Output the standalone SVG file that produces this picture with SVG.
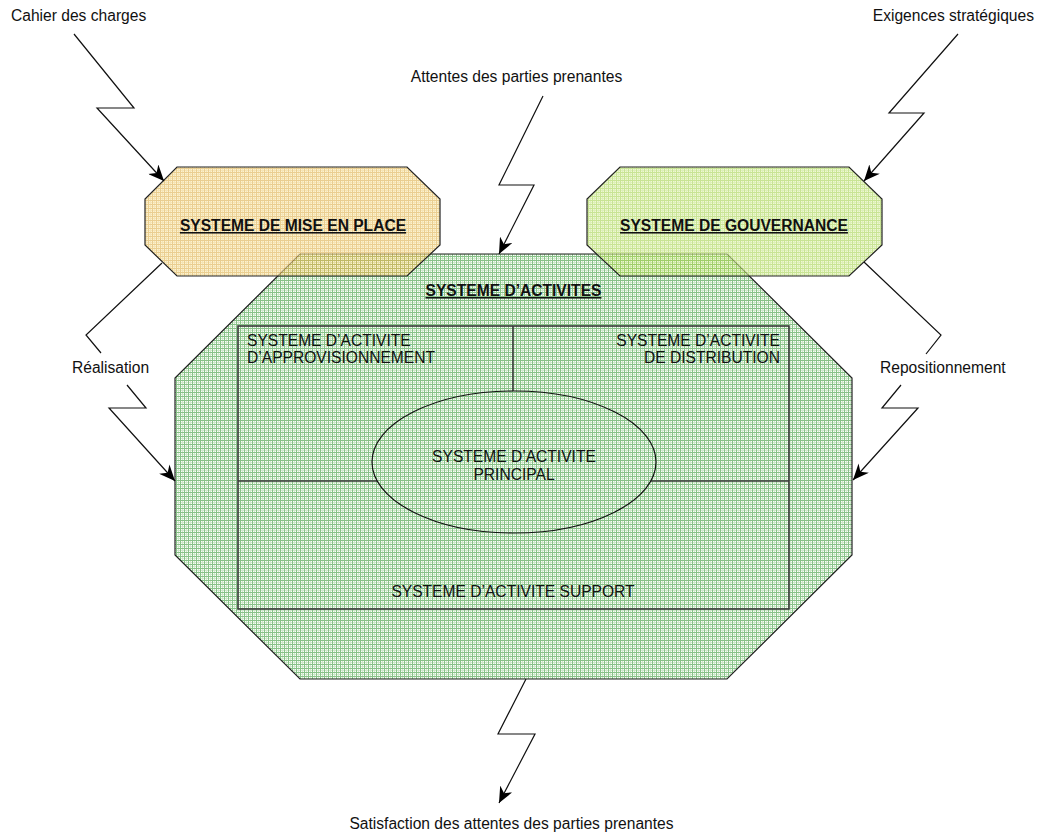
<svg xmlns="http://www.w3.org/2000/svg" width="1037" height="834" viewBox="0 0 1037 834">
<style>
.t{font-family:"Liberation Sans",Arial,sans-serif;font-size:15.6px;fill:#111}
.b{font-weight:bold;text-decoration:underline}
.edge{fill:none;stroke:#111;stroke-width:1.2}
.oct{fill:none;stroke:#222;stroke-width:1.2}
.inner{fill:none;stroke:#3a3a3a;stroke-width:1.6}
</style>
<defs>
<pattern id="pg" width="4" height="4" patternUnits="userSpaceOnUse">
<rect width="4" height="4" fill="#fafdf9"/>
<rect x="2" width="1" height="4" fill="#cfe8cb"/>
<rect y="2" width="4" height="1" fill="#cfe8cb"/>
<rect width="1" height="4" fill="#88c288"/>
<rect width="4" height="1" fill="#88c288"/>
</pattern>
<pattern id="po" width="4" height="4" patternUnits="userSpaceOnUse">
<rect width="4" height="4" fill="#faebb8"/>
<rect x="2" width="1" height="4" fill="#efd68c"/>
<rect y="2" width="4" height="1" fill="#efd68c"/>
<rect width="1" height="4" fill="#deb454"/>
<rect width="4" height="1" fill="#deb454"/>
</pattern>
<pattern id="pl" width="4" height="4" patternUnits="userSpaceOnUse">
<rect width="4" height="4" fill="#e6f5bc"/>
<rect x="2" width="1" height="4" fill="#cbe794"/>
<rect y="2" width="4" height="1" fill="#cbe794"/>
<rect width="1" height="4" fill="#abd65a"/>
<rect width="4" height="1" fill="#abd65a"/>
</pattern>
<marker id="ah" viewBox="0 0 16 14" refX="16" refY="7" markerWidth="16" markerHeight="14" markerUnits="userSpaceOnUse" orient="auto">
<path d="M0,0 L16,7 L0,14 L5,7 z" fill="#000"/>
</marker>
</defs>

<g id="activites">
<polygon points="300,254 727,254 852,378 852,555 727,679 300,679 175,555 175,378" fill="url(#pg)"/>
<polygon class="oct" points="300,254 727,254 852,378 852,555 727,679 300,679 175,555 175,378"/>
<text class="t b" x="513.5" y="296" text-anchor="middle">SYSTEME D’ACTIVITES</text>
</g>

<g id="activite-cadre">
<rect class="inner" x="238" y="326" width="551" height="283"/>
<line class="inner" x1="513" y1="326" x2="513" y2="391"/>
<line class="inner" x1="238" y1="481" x2="377" y2="481"/>
<line class="inner" x1="651" y1="481" x2="789" y2="481"/>
</g>

<g id="approvisionnement">
<text class="t" x="247" y="346">SYSTEME D’ACTIVITE</text>
<text class="t" x="247" y="363">D’APPROVISIONNEMENT</text>
</g>

<g id="distribution">
<text class="t" x="780" y="346" text-anchor="end">SYSTEME D’ACTIVITE</text>
<text class="t" x="780" y="363" text-anchor="end">DE DISTRIBUTION</text>
</g>

<g id="principal">
<ellipse cx="514" cy="462" rx="142" ry="71" fill="none" stroke="#111" stroke-width="1.2"/>
<text class="t" x="514" y="462" text-anchor="middle">SYSTEME D’ACTIVITE</text>
<text class="t" x="514" y="480" text-anchor="middle">PRINCIPAL</text>
</g>

<g id="support">
<text class="t" x="513" y="597" text-anchor="middle">SYSTEME D’ACTIVITE SUPPORT</text>
</g>

<g id="mise-en-place">
<polygon points="177,167 407,167 440,199 440,245 407,276 177,276 145,245 145,199" fill="url(#po)" fill-opacity="0.65"/>
<polygon class="oct" points="177,167 407,167 440,199 440,245 407,276 177,276 145,245 145,199"/>
<text class="t b" x="293" y="231" text-anchor="middle">SYSTEME DE MISE EN PLACE</text>
</g>

<g id="gouvernance">
<polygon points="620,167 849,167 882,199 882,245 849,276 620,276 587,245 587,199" fill="url(#pl)" fill-opacity="0.65"/>
<polygon class="oct" points="620,167 849,167 882,199 882,245 849,276 620,276 587,245 587,199"/>
<text class="t b" x="734" y="231" text-anchor="middle">SYSTEME DE GOUVERNANCE</text>
</g>

<g id="labels">
<text class="t" x="11" y="21">Cahier des charges</text>
<text class="t" x="1034" y="21" text-anchor="end">Exigences stratégiques</text>
<text class="t" x="516.5" y="82" text-anchor="middle">Attentes des parties prenantes</text>
<text class="t" x="72" y="373">Réalisation</text>
<text class="t" x="880" y="373">Repositionnement</text>
<text class="t" x="511.5" y="829" text-anchor="middle">Satisfaction des attentes des parties prenantes</text>
</g>

<g id="connectors">
<path class="edge" d="M74,34 L134,108 L97,108 L164,181" marker-end="url(#ah)"/>
<path class="edge" d="M958,34 L889,113 L924,113 L864,181" marker-end="url(#ah)"/>
<path class="edge" d="M543,96 L499,185 L534,185 L499,254" marker-end="url(#ah)"/>
<path class="edge" d="M162,263 L86,335 L101,353"/>
<path class="edge" d="M127,385 L146,408 L109,408 L175,481" marker-end="url(#ah)"/>
<path class="edge" d="M864,262 L941,335 L926,354"/>
<path class="edge" d="M901,385 L882,408 L918,408 L853,480" marker-end="url(#ah)"/>
<path class="edge" d="M526,679 L498,734 L535,734 L499,803" marker-end="url(#ah)"/>
</g>
</svg>
